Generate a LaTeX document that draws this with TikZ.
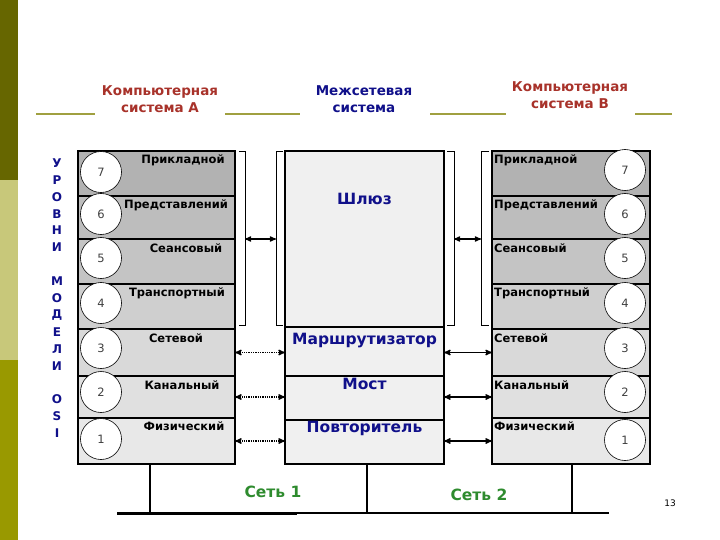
\documentclass[tikz,border=0pt]{standalone}
\usepackage{fontspec}
\setmainfont{DejaVu Sans}
\usetikzlibrary{arrows}
\usetikzlibrary{positioning}

\definecolor{barDark}{HTML}{666600}
\definecolor{barLight}{HTML}{C8C87A}
\definecolor{barMid}{HTML}{999900}
\definecolor{titleLine}{HTML}{A0A040}
\definecolor{sysRed}{HTML}{A8322A}
\definecolor{navyText}{HTML}{10108A}
\definecolor{netGreen}{HTML}{2E8B2E}

\begin{document}
\begin{tikzpicture}[x=1pt,y=-1pt,>=stealth',
                    row/.style={draw,line width=1.6pt,inner sep=0,outer sep=0},
                    num/.style={circle,draw,line width=0.6pt,fill=white,minimum size=41,inner sep=0,
                                font=\fontsize{11.5}{11.5}\selectfont,text=black!75},
                    lvl/.style={font=\fontsize{11.5}{11.5}\selectfont\bfseries,inner sep=0},
                    dev/.style={font=\fontsize{15.5}{15.5}\selectfont\bfseries,text=navyText,inner sep=0},
                    title/.style={align=center,font=\fontsize{13.5}{17}\selectfont\bfseries,inner sep=0},
                    net/.style={font=\fontsize{15.5}{15.5}\selectfont\bfseries,text=netGreen,inner sep=0}]

  \useasboundingbox (0,0) rectangle (720,540);

  % side bar
  \fill[barDark] (0,0) rectangle (18,180);
  \fill[barLight] (0,180) rectangle (18,360);
  \fill[barMid] (0,360) rectangle (18,540);

  % titles
  \node[title,text=sysRed] (sysA) at (160,99.5) {Компьютерная\\система А};
  \node[title,text=navyText] (gate) at (364,99.5) {Межсетевая\\система};
  \node[title,text=sysRed] (sysB) at (570,95.5) {Компьютерная\\система В};
  \draw[titleLine,line width=2pt] (36,114) -- (95,114) (225,114) -- (300,114)
                                 (430,114) -- (506,114) (635,114) -- (672,114);

  % level word
  \foreach \ch [count=\i] in {У,Р,О,В,Н,И,{},М,О,Д,Е,Л,И,{},O,S,I}
    \node[font=\fontsize{12}{12}\selectfont\bfseries,text=navyText,inner sep=0] (osi\i) at (57,{163+(\i-1)*16.9}) {\ch};

  % the two stacks
  \foreach \n/\t/\b/\lx/\ly/\name/\g in {7/151/196/183/160/Прикладной/30,
                                         6/196/239/176/205/Представлений/26,
                                         5/239/284/186/248/Сеансовый/23,
                                         4/284/329/177/293/Транспортный/19,
                                         3/329/376/176/338/Сетевой/15,
                                         2/376/418/182/385/Канальный/12,
                                         1/418/464/184/426/Физический/9}{
    \node[row,fill=black!\g,minimum width=157,minimum height={\b-\t}] (L\n) at (156.5,{(\t+\b)/2}) {};
    \node[row,fill=black!\g,minimum width=158,minimum height={\b-\t}] (R\n) at (571,{(\t+\b)/2}) {};
    \node[lvl] (tL\n) at (\lx,\ly) {\name};
    \node[lvl,anchor=west] (tR\n) at (494,\ly) {\name};
  }
  \foreach \n/\cy/\dy in {7/172/170,6/214/214,5/258/258,4/303/303,3/348/348,2/392/392,1/439/440}{
    \node[num] (cL\n) at (101,\cy) {\n};
    \node[num] (cR\n) at (625,\dy) {\n};
  }

  % gateway box
  \node[row,fill=black!6,minimum width=159,minimum height=176] (M4) at (364.5,239) {};
  \node[row,fill=black!6,minimum width=159,minimum height=49] (M3) at (364.5,351.5) {};
  \node[row,fill=black!6,minimum width=159,minimum height=44] (M2) at (364.5,398) {};
  \node[row,fill=black!6,minimum width=159,minimum height=44] (M1) at (364.5,442) {};
  \draw[line width=2.4pt] (M4.south west) -- (M4.south east);
  \node[dev] (gw) at (364.5,199) {Шлюз};
  \node[dev] (router) at (364.5,341) {Маршрутизатор};
  \node[dev] (bridge) at (364.5,384) {Мост};
  \node[dev] (repeater) at (364.5,428) {Повторитель};

  % brackets over levels 7-4
  \draw[line width=0.8pt] (239,151) -- (245,151) -- (245,325) -- (239,325);
  \draw[line width=0.8pt] (283,151) -- (276,151) -- (276,325) -- (283,325);
  \draw[line width=0.8pt] (447,151) -- (454,151) -- (454,325) -- (447,325);
  \draw[line width=0.8pt] (489,151) -- (481,151) -- (481,325) -- (489,325);
  \coordinate (bL) at (245,239);
  \coordinate (bM) at (276,239);
  \coordinate (bN) at (454,239);
  \coordinate (bR) at (481,239);
  \draw[<->,line width=1.2pt] (bL) -- (bM);
  \draw[<->,line width=1.2pt] (bN) -- (bR);

  % lower levels
  \foreach \n in {3,2,1}{
    \draw[<->,densely dotted,line width=1.3pt] (L\n.east) -- (L\n.east -| M\n.west);
    \draw[<->,line width=1.3pt] (R\n.west -| M\n.east) -- (R\n.west);
  }

  % networks
  \coordinate (dA) at (150,513);
  \coordinate (dM) at (367,513);
  \coordinate (dB) at (572,513);
  \draw[line width=1.8pt] (dA |- L1.south) -- (dA);
  \draw[line width=1.8pt] (dM |- M1.south) -- (dM);
  \draw[line width=1.8pt] (dB |- R1.south) -- (dB);
  \draw[line width=3pt] (117,513) -- (297,513);
  \draw[line width=1.8pt] (297,513) -- (609,513);
  \node[net] (net1) at (273,492) {Сеть 1};
  \node[net] (net2) at (479,495) {Сеть 2};

  \node[font=\fontsize{9}{9}\selectfont,inner sep=0] (page) at (670,503) {13};
\end{tikzpicture}
\end{document}
